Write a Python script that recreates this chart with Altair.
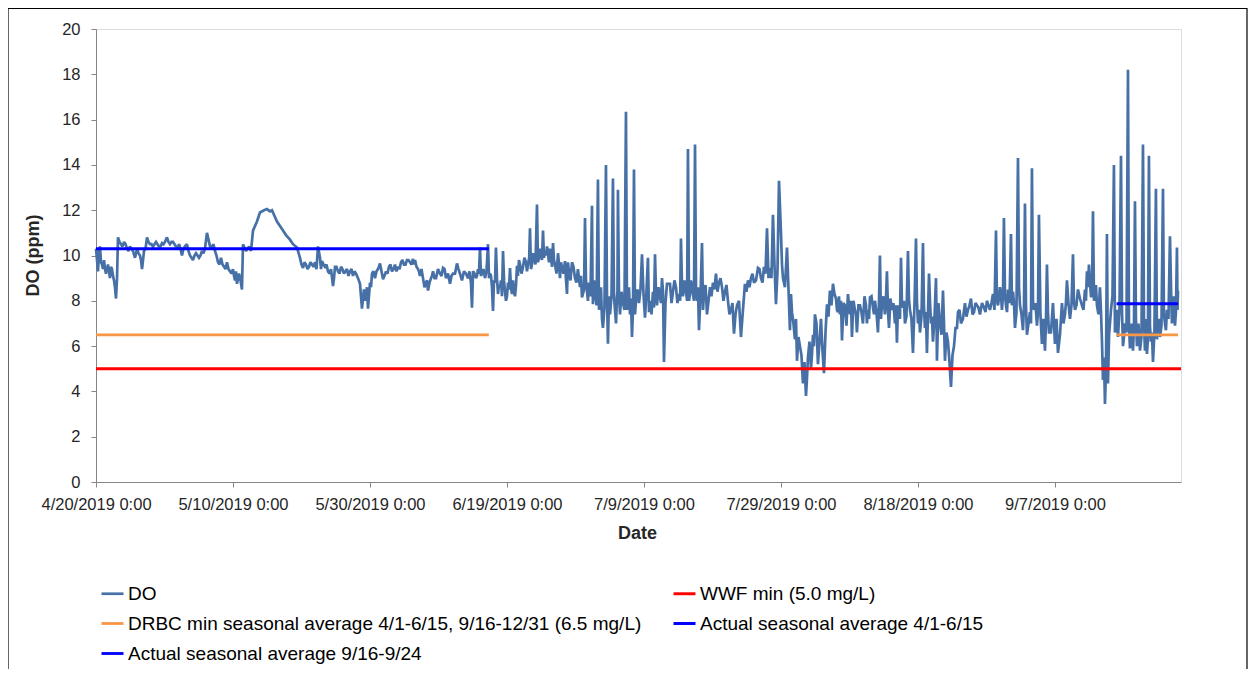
import altair as alt
import pandas as pd

# ---------------- data ----------------
# DO readings: days after 4/20/2019 0:00 and DO value (ppm)
days_apr_may = [0.00, 0.29, 0.58, 0.88, 1.17, 1.46, 1.75, 2.04, 2.34, 2.63, 2.92, 3.07, 3.21, 3.65, 4.09,
                4.53, 4.96, 5.40, 5.69, 5.99, 6.42, 6.72, 7.01, 7.45, 7.88, 8.32, 8.76, 9.20, 9.64, 10.07,
                10.36, 10.80, 11.24, 11.68, 12.12, 12.55, 12.99, 13.28, 13.72, 14.16, 14.60, 15.04, 15.47,
                15.91, 16.20, 16.50, 16.93, 17.37, 17.81, 18.25, 18.69, 19.12, 19.56, 20.00, 20.29, 20.58,
                20.88, 21.31, 21.46, 21.90, 22.34, 22.63, 22.92, 23.50, 23.94, 24.53, 24.96, 25.40, 25.69,
                26.13, 26.42, 26.86, 27.30, 27.74, 28.32, 28.76, 29.34]
vals_apr_may = [10.3, 9.3, 10.4, 9.6, 9.8, 9.2, 9.6, 9.0, 9.4, 8.9, 8.1, 9.0, 10.8, 10.5, 10.6,
                10.3, 10.4, 10.2, 9.9, 10.3, 10.0, 9.4, 10.2, 10.8, 10.5, 10.4, 10.6, 10.4, 10.55, 10.6,
                10.8, 10.5, 10.6, 10.4, 10.5, 10.0, 10.4, 10.5, 10.0, 9.8, 10.1, 9.9, 10.2,
                10.3, 11.0, 10.6, 10.4, 10.2, 9.7, 9.9, 9.5, 9.7, 9.3, 9.4, 8.9, 8.75,
                9.2, 8.5, 10.5, 10.2, 10.4, 10.2, 11.1, 11.5, 11.9, 12.0, 12.05, 11.95, 12.0,
                11.7, 11.5, 11.3, 11.1, 10.9, 10.7, 10.5, 10.35]
days_apr_may_fine = [0.15, 0.44, 0.73, 1.02, 1.31, 1.60, 1.90, 2.19, 2.48, 2.77, 3.43, 3.87, 4.31, 4.75,
                     5.18, 6.20, 6.57, 7.23, 7.66, 8.10, 8.54, 8.98, 9.42, 9.86, 10.58, 11.02, 11.46, 11.90,
                     12.34, 12.77, 13.50, 13.94, 14.38, 14.82, 15.26, 15.69, 16.72, 17.15, 17.59, 18.03,
                     18.47, 18.90, 19.34, 19.78, 20.15, 20.44, 21.10]
vals_apr_may_fine = [9.8, 10.2, 9.7, 9.4, 9.4, 9.4, 9.3, 9.5, 9.1, 8.6, 10.6, 10.4, 10.5, 10.2,
                     10.3, 10.1, 9.8, 10.3, 10.6, 10.5, 10.5, 10.5, 10.4, 10.5, 10.6, 10.6, 10.5, 10.3,
                     10.3, 10.3, 10.2, 9.9, 10.0, 10.0, 10.0, 10.1, 10.3, 10.5, 10.0, 9.6,
                     9.6, 9.4, 9.4, 9.2, 9.1, 9.3, 8.9]

days_may_jun = [29.78, 30.22, 30.66, 31.09, 31.53, 31.97, 32.41, 32.70, 32.99, 33.43, 33.87, 34.31, 34.60,
                34.89, 35.33, 35.77, 36.20, 36.64, 37.08, 37.52, 37.96, 38.54, 38.83, 39.12, 39.42, 39.71,
                40.00, 40.29, 40.73, 41.17, 41.46, 41.90, 42.34, 42.77, 43.21, 43.65, 44.09, 44.53, 44.96,
                45.40, 45.84, 46.28, 46.57, 47.01, 47.30, 47.74, 48.18, 48.47, 48.91, 49.20, 49.64, 50.22,
                50.66, 51.09, 51.68, 52.12, 52.70, 53.14, 53.72, 54.31, 54.74, 54.89, 55.04, 55.47, 55.77,
                56.06, 56.35, 56.79, 57.23, 57.52, 57.81, 57.96, 58.25, 58.39, 58.69]
vals_may_jun = [9.9, 9.45, 9.6, 9.5, 9.6, 9.7, 10.4, 9.9, 9.75, 9.5, 9.3, 9.4, 8.65,
                9.5, 9.3, 9.5, 9.2, 9.4, 9.3, 9.1, 9.2, 8.75, 7.65, 8.5, 8.2, 7.65,
                8.8, 9.2, 9.0, 9.4, 9.65, 8.95, 9.3, 9.5, 9.3, 9.6, 9.5, 9.7, 9.6,
                9.8, 9.7, 9.85, 9.8, 9.4, 9.1, 9.0, 8.8, 8.45, 9.0, 9.3, 9.0, 9.2,
                9.45, 9.0, 8.75, 9.2, 9.65, 9.2, 9.3, 9.0, 8.8, 7.7, 9.3, 9.0, 9.4,
                10.35, 9.2, 9.0, 10.5, 9.2, 8.6, 7.55, 8.8, 10.35, 8.3]
days_may_jun_fine = [30.00, 30.44, 30.88, 31.31, 31.75, 32.19, 32.85, 33.21, 33.65, 34.09, 34.75, 35.11,
                     35.55, 35.98, 36.42, 36.86, 37.30, 37.74, 38.25, 39.27, 39.56, 40.15, 40.51, 40.95,
                     41.68, 42.12, 42.55, 42.99, 43.43, 43.87, 44.31, 44.74, 45.18, 45.62, 46.06, 46.42,
                     46.79, 47.15, 47.52, 47.96, 48.33, 48.69, 49.06, 49.42, 49.93, 50.44, 50.88, 51.39,
                     51.90, 52.41, 52.92, 53.43, 54.02, 54.52, 55.26, 55.62, 55.91, 56.20, 56.57, 57.01,
                     57.38, 57.67, 58.10, 58.54, 58.83]
vals_may_jun_fine = [9.6, 9.7, 9.4, 9.7, 9.5, 9.4, 9.4, 9.6, 9.6, 9.2, 9.0, 9.5,
                     9.2, 9.4, 9.3, 9.1, 9.4, 9.3, 9.0, 8.0, 8.6, 8.6, 9.3, 9.3,
                     9.3, 9.1, 9.2, 9.6, 9.4, 9.3, 9.4, 9.8, 9.6, 9.8, 9.6, 9.6,
                     9.5, 9.3, 9.4, 8.6, 8.9, 8.8, 9.1, 9.0, 9.4, 9.1, 9.4, 9.2,
                     9.1, 9.2, 9.4, 8.9, 9.2, 9.3, 9.2, 9.1, 9.2, 9.1, 9.4, 9.3,
                     9.0, 9.1, 8.9, 9.0, 8.7]

days_jun_jul = [58.98, 59.27, 59.42, 59.71, 60.00, 60.29, 60.44, 60.73, 61.02, 61.17, 61.46, 61.90, 62.34,
                62.77, 63.07, 63.36, 63.65, 63.94, 64.38, 64.67, 64.96, 65.26, 65.55, 65.84, 66.13, 66.42,
                66.72, 67.01, 67.45, 67.74, 68.03, 68.47, 68.76, 69.05, 69.49, 69.93, 70.36, 70.66, 70.95,
                71.39, 71.68, 71.97, 72.41, 72.55, 72.85, 73.28, 73.58, 73.87, 74.01, 74.45, 74.74, 75.04,
                75.47, 75.77, 76.06, 76.20, 76.50, 76.93, 77.37, 77.66, 77.96, 78.25, 78.54, 78.83, 79.27,
                79.71, 80.15, 80.58, 80.88, 81.31, 81.61, 81.90, 82.34, 82.63, 82.92, 83.36]
vals_jun_jul = [8.6, 8.2, 10.2, 8.4, 8.2, 8.5, 9.45, 8.3, 8.4, 8.2, 9.55, 9.6, 9.5,
                9.7, 9.6, 11.2, 9.6, 9.9, 12.25, 9.9, 10.0, 11.1, 10.2, 10.4, 9.7, 9.9,
                10.55, 9.6, 10.1, 9.0, 9.5, 9.75, 8.3, 9.3, 9.7, 9.0, 9.4, 8.6, 8.15,
                11.65, 8.4, 8.8, 12.2, 7.85, 8.4, 13.35, 8.0, 7.2, 6.8, 14.0, 6.1, 7.4,
                13.4, 7.6, 8.2, 12.9, 7.4, 7.9, 16.35, 8.2, 7.4, 6.4, 13.8, 8.0, 7.9,
                10.05, 7.25, 9.9, 8.0, 8.4, 10.05, 7.8, 8.15, 9.0, 5.3, 8.75]
days_jun_jul_fine = [59.13, 59.57, 59.85, 60.15, 60.58, 60.88, 61.32, 61.60, 61.75, 62.12, 62.55, 62.92,
                     63.24, 63.50, 63.80, 64.16, 64.52, 64.81, 65.11, 65.40, 65.70, 65.98, 66.28, 66.58,
                     66.86, 67.23, 67.60, 67.88, 68.25, 68.60, 68.90, 69.27, 69.71, 70.14, 70.51, 70.80,
                     71.25, 71.53, 71.82, 72.19, 72.48, 72.70, 73.08, 73.43, 73.72, 74.23, 74.60, 74.89,
                     75.26, 75.62, 75.92, 76.13, 76.35, 76.72, 77.15, 77.52, 77.81, 78.10, 78.40, 78.69,
                     79.05, 79.49, 79.93, 80.36, 80.73, 81.10, 81.46, 81.76, 82.12, 82.48, 82.78, 83.14]
vals_jun_jul_fine = [8.9, 8.9, 8.0, 8.8, 8.6, 8.9, 8.7, 9.1, 9.8, 9.2, 9.9, 9.3,
                     9.9, 9.4, 10.1, 9.6, 9.7, 10.3, 9.8, 9.9, 10.0, 10.1, 10.3, 9.5,
                     9.8, 9.2, 9.6, 9.7, 9.2, 9.0, 9.7, 8.9, 9.5, 8.8, 9.0, 9.1,
                     8.5, 8.9, 8.0, 8.2, 8.9, 8.9, 7.8, 7.6, 8.6, 7.7, 8.2, 8.2,
                     8.2, 8.2, 7.0, 8.4, 8.3, 8.4, 7.6, 7.6, 8.6, 8.1, 7.7, 7.4,
                     8.5, 8.5, 8.3, 8.4, 7.5, 7.4, 7.7, 8.3, 8.6, 7.9, 8.4, 7.9]

days_jul_aug = [83.80, 84.23, 84.67, 85.11, 85.40, 85.69, 86.13, 86.42, 86.72, 87.01, 87.45, 87.74, 88.03,
                88.47, 88.76, 89.20, 89.64, 90.07, 90.51, 90.95, 91.39, 91.82, 92.26, 92.70, 93.14, 93.58,
                94.16, 94.74, 95.18, 95.62, 96.06, 96.64, 97.08, 97.52, 97.96, 98.39, 98.83, 99.27, 99.71,
                100.00, 100.29, 100.88, 101.31, 101.61, 102.04, 102.34, 102.77, 103.21, 103.65, 103.94,
                104.38, 104.67, 104.96, 105.40, 105.84, 106.28, 106.72, 107.15, 107.59, 108.03, 108.32,
                108.61]
vals_jul_aug = [8.75, 8.4, 8.6, 8.3, 10.75, 8.2, 8.4, 14.7, 8.3, 8.6, 14.9, 8.0, 6.7,
                10.55, 8.4, 7.4, 8.6, 8.8, 9.2, 8.8, 8.6, 8.4, 8.0, 7.6, 6.55, 7.8,
                6.4, 8.75, 8.9, 9.0, 8.8, 9.45, 9.0, 9.5, 11.2, 9.45, 11.8, 7.85, 13.3,
                11.0, 9.0, 10.35, 6.7, 7.5, 6.3, 5.35, 6.0, 4.35, 3.8, 5.5,
                5.0, 6.5, 7.4, 5.2, 7.2, 4.8, 7.85, 8.45, 8.75, 8.1, 7.5,
                7.4]
days_jul_aug_fine = [84.02, 84.45, 84.89, 85.28, 85.55, 85.91, 86.30, 86.57, 86.86, 87.30, 87.60, 87.88,
                     88.25, 88.62, 88.98, 89.42, 89.85, 90.29, 90.73, 91.17, 91.60, 92.04, 92.48, 92.92,
                     93.36, 93.87, 94.45, 94.96, 95.40, 95.84, 96.35, 96.86, 97.30, 97.74, 98.18, 98.61,
                     99.05, 99.49, 100.15, 100.58, 101.10, 101.46, 101.82, 102.19, 102.55, 102.99, 103.43,
                     103.80, 104.16, 104.52, 104.81, 105.18, 105.62, 106.06, 106.50, 106.93, 107.37, 107.81,
                     108.17, 108.47]
vals_jul_aug_fine = [7.9, 8.9, 7.9, 8.0, 8.7, 8.9, 8.0, 8.0, 8.9, 8.0, 8.4, 8.6,
                     8.2, 7.6, 8.7, 8.0, 8.2, 8.5, 8.4, 9.0, 8.0, 8.7, 7.4, 7.9,
                     7.4, 8.0, 7.6, 8.4, 8.6, 9.2, 8.9, 9.4, 8.8, 9.2, 9.0, 9.0,
                     9.6, 9.3, 9.6, 8.6, 8.5, 8.3, 7.0, 7.2, 6.4, 5.6, 5.3,
                     4.6, 6.2, 5.6, 6.0, 7.0, 6.2, 5.8, 6.6, 7.3, 7.8, 8.3,
                     7.6, 8.2]

days_aug_sep = [108.91, 109.34, 109.78, 110.07, 110.36, 110.80, 111.09, 111.53, 111.97, 112.41, 112.70,
                112.99, 113.43, 113.72, 114.16, 114.45, 114.74, 115.18, 115.47, 115.77, 116.20, 116.64,
                116.93, 117.23, 117.52, 117.81, 118.10, 118.54, 118.83, 119.27, 119.71, 120.00, 120.29,
                120.73, 121.02, 121.31, 121.61, 121.90, 122.19, 122.63, 122.77, 123.21, 123.65, 123.94,
                124.38, 124.82, 125.26, 125.69, 125.84, 126.28, 126.86, 127.30, 127.74, 128.18, 128.61,
                129.05, 129.64, 130.07, 130.51, 130.95, 131.39, 131.68, 131.97]
vals_aug_sep = [6.25, 7.8, 8.3, 7.4, 6.4, 7.6, 6.6, 7.8, 7.0, 7.8, 7.6,
                8.15, 7.7, 8.0, 6.6, 10.0, 7.8, 7.4, 9.3, 6.8, 7.6, 7.0,
                6.15, 7.5, 9.9, 7.7, 7.0, 10.2, 7.6, 5.7, 10.75, 7.0, 6.6,
                10.55, 6.8, 5.7, 9.2, 7.0, 6.2, 9.0, 5.35, 7.0, 8.45, 5.35,
                6.2, 4.2, 6.0, 6.8, 7.5, 7.0, 7.9, 7.6, 8.1, 7.5, 7.8,
                7.4, 7.7, 8.0, 7.6, 8.3, 11.1, 7.8, 8.6]
days_aug_sep_fine = [108.76, 109.12, 109.56, 109.93, 110.22, 110.58, 110.95, 111.31, 111.75, 112.19,
                     112.55, 112.85, 113.21, 113.58, 113.94, 114.30, 114.60, 114.96, 115.32, 115.62,
                     115.98, 116.42, 116.78, 117.08, 117.37, 117.66, 117.95, 118.32, 118.68, 119.05,
                     119.49, 119.85, 120.14, 120.51, 120.87, 121.16, 121.46, 121.75, 122.04, 122.41,
                     122.70, 122.99, 123.43, 123.80, 124.16, 124.60, 125.04, 125.48, 126.06, 126.57,
                     127.08, 127.52, 127.96, 128.40, 128.83, 129.35, 129.86, 130.29, 130.73, 131.17,
                     131.53, 131.82]
vals_aug_sep_fine = [8.0, 7.9, 6.9, 7.8, 8.0, 8.0, 7.4, 7.8, 7.5, 8.2,
                     7.0, 7.2, 8.2, 7.4, 7.5, 7.8, 7.2, 8.2, 8.0, 7.6,
                     8.1, 7.9, 7.8, 7.8, 7.2, 7.9, 8.0, 7.3, 8.1, 7.2,
                     7.8, 8.0, 7.6, 7.3, 7.8, 7.5, 7.4, 8.0, 7.3, 7.2,
                     7.6, 7.9, 6.5, 7.0, 6.6, 5.3, 5.6, 6.8, 7.6, 7.2,
                     7.3, 7.8, 7.4, 7.9, 7.7, 7.9, 7.5, 7.8, 7.9, 7.6,
                     8.0, 8.1]

days_sep = [132.26, 132.55, 132.85, 133.14, 133.58, 133.87, 134.16, 134.60, 134.89, 135.33, 135.62,
            135.91, 136.35, 136.64, 136.93, 137.37, 137.66, 138.10, 138.54, 138.83, 139.12, 139.71,
            140.00, 140.44, 141.02, 141.46, 141.75, 142.19, 142.63, 142.92, 143.36, 143.94, 144.38,
            144.67, 144.96, 145.26, 145.55, 145.84, 146.13, 146.57, 146.86, 147.01, 147.30, 147.59,
            147.74, 148.18, 148.61, 148.91, 149.20, 149.64, 149.93, 150.22, 150.66, 150.95, 151.39,
            151.68, 151.97, 152.41, 152.85, 153.14, 153.43, 153.72, 154.01, 154.31, 154.74, 155.04,
            155.33, 155.77, 156.06, 156.35, 156.79, 157.08, 157.37, 157.52, 157.81, 157.96]
vals_sep = [7.6, 11.65, 7.8, 8.5, 10.95, 8.4, 6.8, 14.3, 7.8, 6.7, 12.3,
            6.5, 7.5, 13.85, 7.6, 6.9, 11.8, 6.1, 5.8, 9.6, 6.6, 7.9,
            6.1, 5.7, 7.9, 7.4, 8.9, 7.2, 10.05, 7.6, 8.5, 7.8, 8.5,
            9.3, 9.6, 8.2, 11.95, 8.4, 7.8, 8.6, 6.25, 4.5, 3.45, 10.95,
            4.35, 7.6, 14.0, 7.1, 6.4, 14.4, 6.0, 7.0, 18.2, 5.9, 5.8,
            12.4, 6.0, 5.8, 14.9, 5.8, 5.65, 14.4, 6.2, 5.3, 12.95, 7.1,
            6.4, 12.95, 7.0, 7.6, 10.85, 7.0, 8.2, 6.9, 10.35, 8.45]
days_sep_fine = [132.11, 132.41, 132.70, 133.00, 133.36, 133.72, 134.02, 134.38, 134.75, 135.11, 135.48,
                 135.77, 136.13, 136.50, 136.79, 137.15, 137.52, 137.88, 138.32, 138.68, 138.98, 139.41,
                 139.85, 140.22, 140.73, 141.24, 141.60, 141.97, 142.41, 142.77, 143.14, 143.65, 144.16,
                 144.52, 144.81, 145.11, 145.40, 145.70, 145.98, 146.35, 146.72, 147.16, 147.45, 147.90,
                 148.40, 148.76, 149.06, 149.42, 149.79, 150.07, 150.44, 150.80, 151.17, 151.53, 151.82,
                 152.19, 152.63, 153.00, 153.28, 153.57, 153.87, 154.16, 154.52, 154.89, 155.18, 155.55,
                 155.91, 156.20, 156.57, 157.00, 157.22, 157.45, 157.66, 157.89]
vals_sep_fine = [8.3, 8.2, 8.3, 7.5, 7.9, 7.8, 7.9, 7.5, 8.6, 7.4, 7.8,
                 7.8, 7.0, 7.0, 8.0, 7.9, 7.5, 7.4, 7.2, 7.0, 7.5, 6.6,
                 7.0, 7.2, 6.5, 7.0, 7.9, 7.9, 7.8, 8.0, 7.8, 8.1, 7.6,
                 8.0, 8.6, 8.8, 8.2, 8.0, 8.7, 7.4, 7.5, 5.5, 5.0, 6.5,
                 8.2, 6.6, 7.6, 7.6, 7.5, 6.4, 6.6, 7.0, 7.0, 6.8, 7.2,
                 7.0, 6.4, 7.0, 7.2, 6.3, 6.9, 6.6, 6.6, 6.3, 7.2, 6.9,
                 7.4, 6.7, 7.2, 7.8, 7.6, 7.5, 7.5, 7.6]

# Series in legend order (the legend fills column by column: 3 rows x 2 columns)
series_names = [
    "DO",
    "DRBC min seasonal average 4/1-6/15, 9/16-12/31 (6.5 mg/L)",
    "Actual seasonal average 9/16-9/24",
    "WWF min (5.0 mg/L)",
    "Actual seasonal average 4/1-6/15",
]
series_colors = ["#4670A6", "#F79646", "#0000FF", "#FF0000", "#0000FF"]
series_widths = [2.7, 3, 3, 3, 3]

# Reference lines: series index, level, start day, end day (days after 4/20/2019)
ref_series = [3, 1, 1, 4, 2]
ref_levels = [5.0, 6.5, 6.5, 10.3, 7.87]
ref_start_days = [0.0, 0.0, 149.0, 0.0, 149.0]
ref_end_days = [158.4, 57.35, 157.96, 57.35, 157.96]

# Axis
x_tick_days = [0, 20, 40, 60, 80, 100, 120, 140]
x_end_day = 158.4
y_ticks = [0, 2, 4, 6, 8, 10, 12, 14, 16, 18, 20]

# ---------------- build tables ----------------
base = pd.Timestamp("2019-04-20", tz="UTC")


def to_iso(d):
    return (base + pd.to_timedelta(d, unit="D")).strftime("%Y-%m-%dT%H:%M:%SZ")


def to_ms(d):
    return int((base + pd.to_timedelta(d, unit="D")).timestamp() * 1000)


do_days = (days_apr_may + days_apr_may_fine + days_may_jun + days_may_jun_fine + days_jun_jul
           + days_jun_jul_fine + days_jul_aug + days_jul_aug_fine + days_aug_sep + days_aug_sep_fine
           + days_sep + days_sep_fine)
do_vals = (vals_apr_may + vals_apr_may_fine + vals_may_jun + vals_may_jun_fine + vals_jun_jul
           + vals_jun_jul_fine + vals_jul_aug + vals_jul_aug_fine + vals_aug_sep + vals_aug_sep_fine
           + vals_sep + vals_sep_fine)
do_df = pd.DataFrame({"day": do_days, "v": do_vals}).sort_values("day").reset_index(drop=True)
do_df["t"] = [to_iso(d) for d in do_df["day"]]
do_df["series"] = series_names[0]
do_df = do_df[["t", "v", "series"]]

ref_rows = []
for i, (s, lv, d0, d1) in enumerate(zip(ref_series, ref_levels, ref_start_days, ref_end_days)):
    for d in (d0, d1):
        ref_rows.append({"t": to_iso(d), "v": lv, "series": series_names[s], "seg": i})
ref_df = pd.DataFrame(ref_rows)

FONT = "Liberation Sans"
AXIS_GRAY = "#868686"
TEXT = "#262626"

x_enc = alt.X(
    "t:T",
    scale=alt.Scale(type="utc", domain=[to_ms(0), to_ms(x_end_day)]),
    axis=alt.Axis(
        values=[to_ms(d) for d in x_tick_days],
        labelExpr="utcFormat(datum.value, '%-m/%-d/%Y %-H:%M')",
        title="Date",
        grid=False,
        domainColor=AXIS_GRAY,
        tickColor=AXIS_GRAY,
        tickSize=5,
        labelPadding=9,
        labelFont=FONT,
        labelFontSize=16.5,
        labelColor=TEXT,
        labelAngle=0,
        labelFlush=False,
        labelOverlap=False,
        titleFont=FONT,
        titleFontSize=18,
        titleFontWeight="bold",
        titleColor=TEXT,
        titleX=541,
        titleY=51,
        titleBaseline="middle",
        titleAlign="center",
    ),
)
y_enc = alt.Y(
    "v:Q",
    scale=alt.Scale(domain=[0, 20], nice=False, zero=False),
    axis=alt.Axis(
        values=y_ticks,
        title="DO (ppm)",
        grid=False,
        domainColor=AXIS_GRAY,
        tickColor=AXIS_GRAY,
        tickSize=5,
        labelPadding=11,
        labelFont=FONT,
        labelFontSize=16.5,
        labelColor=TEXT,
        titleFont=FONT,
        titleFontSize=18,
        titleFontWeight="bold",
        titleColor=TEXT,
        titleAngle=270,
        titleX=-63,
        titleY=226,
        titleAlign="center",
        titleBaseline="middle",
    ),
)
color_enc = alt.Color(
    "series:N",
    scale=alt.Scale(domain=series_names, range=series_colors),
    title=None,
    legend=alt.Legend(
        orient="none",
        legendX=4,
        legendY=552,
        columns=2,
        columnPadding=25,
        rowPadding=7,
        symbolType="stroke",
        symbolSize=484,
        labelOffset=3,
        labelFont=FONT,
        labelFontSize=19,
        labelColor="#000000",
        labelLimit=900,
        padding=0,
    ),
)
width_enc = alt.StrokeWidth(
    "series:N",
    scale=alt.Scale(domain=series_names, range=series_widths),
    title=None,
)

do_line = alt.Chart(do_df).mark_line(strokeJoin="miter", strokeMiterLimit=2).encode(
    x=x_enc, y=y_enc, color=color_enc, strokeWidth=width_enc
)
ref_lines = alt.Chart(ref_df).mark_line().encode(
    x="t:T", y="v:Q", color="series:N", strokeWidth="series:N", detail="seg:N"
)

frame = alt.Chart(pd.DataFrame({"a": [0]})).mark_rect(
    fill=None, stroke="#000000", strokeWidth=1.2
).encode(
    x=alt.value(-88), x2=alt.value(1151), y=alt.value(-20.5), y2=alt.value(700)
)

chart = alt.layer(do_line, ref_lines, frame).properties(
    width=1085,
    height=453,
    padding={"left": 88, "top": 21, "right": 68, "bottom": 187},
    autosize=alt.AutoSizeParams(type="none"),
).configure_view(stroke=None).configure(background="white")

chart.save("out.html", embed_options={"renderer": "svg", "actions": False})
